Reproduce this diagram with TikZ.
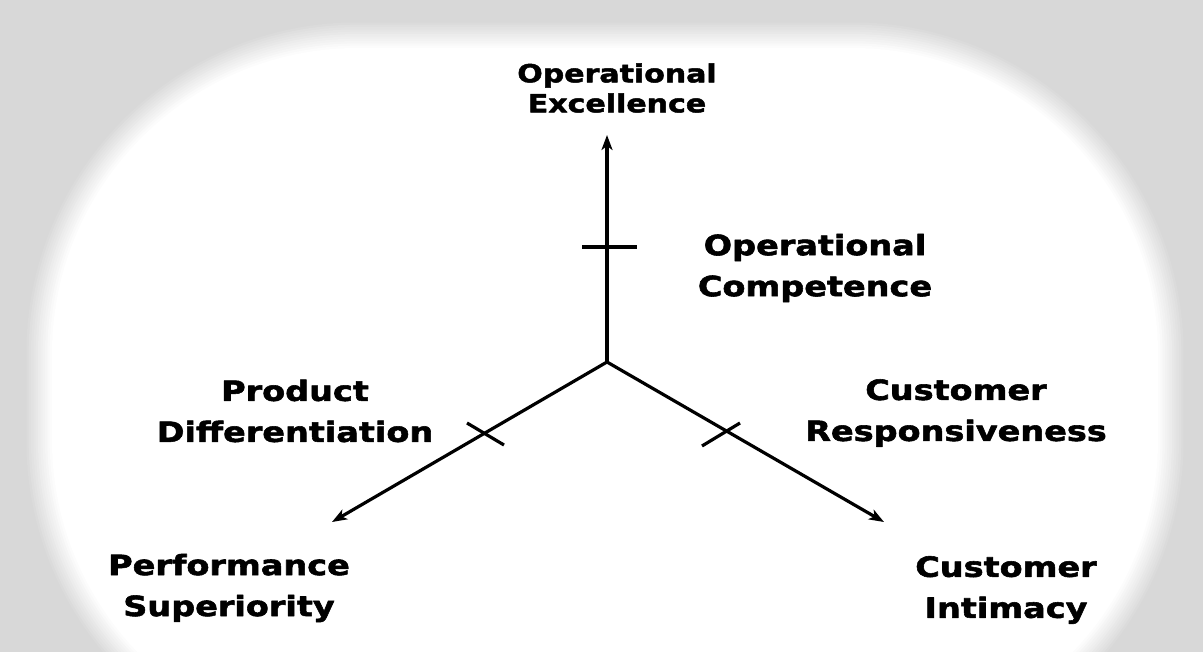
\documentclass[tikz,border=0pt]{standalone}
\usepackage{fontspec}
\setmainfont[FakeStretch=1.2,FakeBold=2]{DejaVu Sans}
\usetikzlibrary{arrows.meta, positioning}
\definecolor{bg_grey}{HTML}{D8D8D8}
\tikzset{
  axis/.style={line width=3.2pt, -{Stealth[length=15pt,width=11pt,inset=4pt]}},
  tick/.style={line width=3.2pt},
  label/.style={align=center, inner sep=0pt, font=\bfseries\fontsize{27.9}{41}\selectfont},
  toplabel/.style={align=center, inner sep=0pt, font=\bfseries\fontsize{25}{30}\selectfont}
}

\begin{document}
\begin{tikzpicture}[x=1pt,y=-1pt,line join=round]
	\useasboundingbox (0,0) rectangle (1203,652);
	\begin{scope}
	\clip (0,0) rectangle (1203,652);
	\fill[bg_grey] (0,0) rectangle (1203,652);
    % soft white backdrop
    \foreach \i in {0,...,12}{
        \pgfmathsetmacro\d{14-2.33*\i}
        \pgfmathsetmacro\p{100*\i/12}
        \fill[white!\p!bg_grey, rounded corners={(320+\d)*1pt}]
          (38-\d,34-\d) rectangle (1172+\d,760+\d);
    }
	\end{scope}

    \coordinate (o) at (607,362);
    \coordinate (top) at (607,135);
    \coordinate (left) at (332,522);
    \coordinate (right) at (884,522);
    \draw[axis] (o) -- (top);
    \draw[axis] (o) -- (left);
    \draw[axis] (o) -- (right);

    % tick marks
    \coordinate (tt1) at (582,247);
    \coordinate (tt2) at (637,247);
    \coordinate (lt1) at (467,423);
    \coordinate (lt2) at (504,445);
    \coordinate (rt1) at (740,423);
    \coordinate (rt2) at (702,446);
    \draw[tick] (tt1) -- (tt2);
    \draw[tick] (lt1) -- (lt2);
    \draw[tick] (rt1) -- (rt2);

    \node[toplabel] (excellence) at (617,88) {Operational\\Excellence};
    \node[label] (competence) at (815,268) {Operational\\Competence};
    \node[label] (differentiation) at (295,411) {Product\\Differentiation};
    \node[label] (responsiveness) at (956,413) {Customer\\Responsiveness};
    \node[label] (superiority) at (229,588) {Performance\\Superiority};
    \node[label] (intimacy) at (1006,590) {Customer\\Intimacy};
\end{tikzpicture}
\end{document}
